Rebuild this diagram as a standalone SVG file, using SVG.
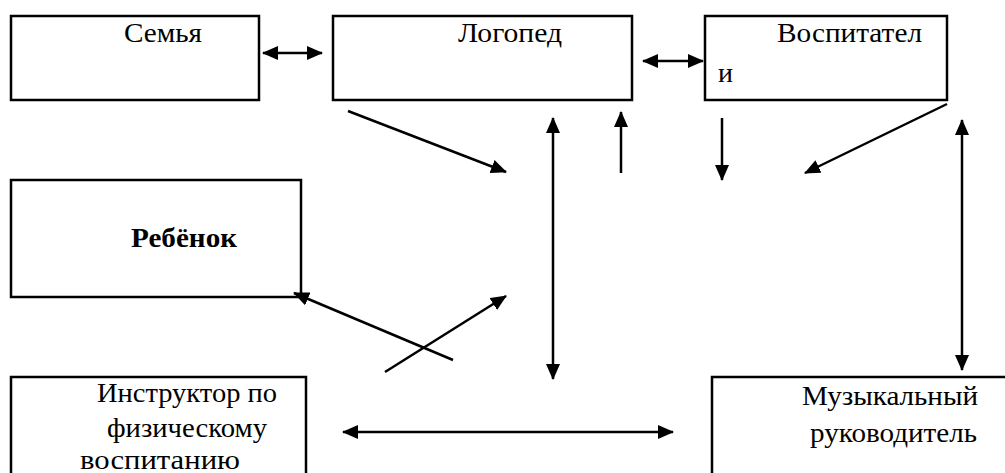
<svg xmlns="http://www.w3.org/2000/svg" width="1005" height="473" viewBox="0 0 1005 473">
<style>
.box{fill:#fff;stroke:#000;stroke-width:2.5}
.c{stroke:#000;stroke-width:2.5;fill:none;marker-end:url(#ah)}
.d{marker-start:url(#ahs)}
</style>
<defs>
<marker id="ah" markerUnits="userSpaceOnUse" markerWidth="16" markerHeight="14" refX="15" refY="7" orient="auto"><path d="M0,0 L16,7 L0,14 Z" fill="#000"/></marker>
<marker id="ahs" markerUnits="userSpaceOnUse" markerWidth="16" markerHeight="14" refX="1" refY="7" orient="auto"><path d="M16,0 L0,7 L16,14 Z" fill="#000"/></marker>
</defs>
<rect width="1005" height="473" fill="#fff"/>
<g font-family="Liberation Serif, serif" font-size="28" fill="#000">
<g id="semya"><rect class="box" x="11" y="16" width="248" height="84"/><text x="124" y="42" textLength="78" lengthAdjust="spacingAndGlyphs">Семья</text></g>
<g id="logoped"><rect class="box" x="333" y="16" width="299" height="84"/><text x="458" y="42" textLength="104" lengthAdjust="spacingAndGlyphs">Логопед</text></g>
<g id="vospitateli"><rect class="box" x="705" y="16" width="242" height="84"/><text x="777" y="42" textLength="145" lengthAdjust="spacingAndGlyphs">Воспитател</text><text x="718" y="82">и</text></g>
<g id="rebenok"><rect class="box" x="11" y="180" width="290" height="117"/><text font-weight="bold" x="131" y="247" textLength="106" lengthAdjust="spacingAndGlyphs">Ребёнок</text></g>
<g id="instruktor"><rect class="box" x="11" y="377" width="295" height="100"/><text x="97" y="402" textLength="180" lengthAdjust="spacingAndGlyphs">Инструктор по</text><text x="107" y="437" textLength="160" lengthAdjust="spacingAndGlyphs">физическому</text><text x="80" y="469" textLength="160" lengthAdjust="spacingAndGlyphs">воспитанию</text></g>
<g id="muz"><rect class="box" x="712" y="377" width="300" height="100"/><text x="802" y="405" textLength="176" lengthAdjust="spacingAndGlyphs">Музыкальный</text><text x="810" y="442" textLength="167" lengthAdjust="spacingAndGlyphs">руководитель</text></g>
</g>
<g id="connectors">
<line class="c d" x1="263" y1="53" x2="322" y2="53"/>
<line class="c d" x1="643" y1="61" x2="703" y2="61"/>
<line class="c" x1="348" y1="111" x2="506" y2="172"/>
<line class="c d" x1="553" y1="118" x2="553" y2="379"/>
<line class="c" x1="621" y1="173" x2="621" y2="112"/>
<line class="c" x1="722" y1="118" x2="722" y2="180"/>
<line class="c" x1="947" y1="104" x2="805" y2="173"/>
<line class="c d" x1="962" y1="120" x2="962" y2="370"/>
<line class="c" x1="453" y1="360" x2="294" y2="293"/>
<line class="c" x1="385" y1="372" x2="506" y2="296"/>
<line class="c d" x1="343" y1="432" x2="673" y2="432"/>
</g>
</svg>
